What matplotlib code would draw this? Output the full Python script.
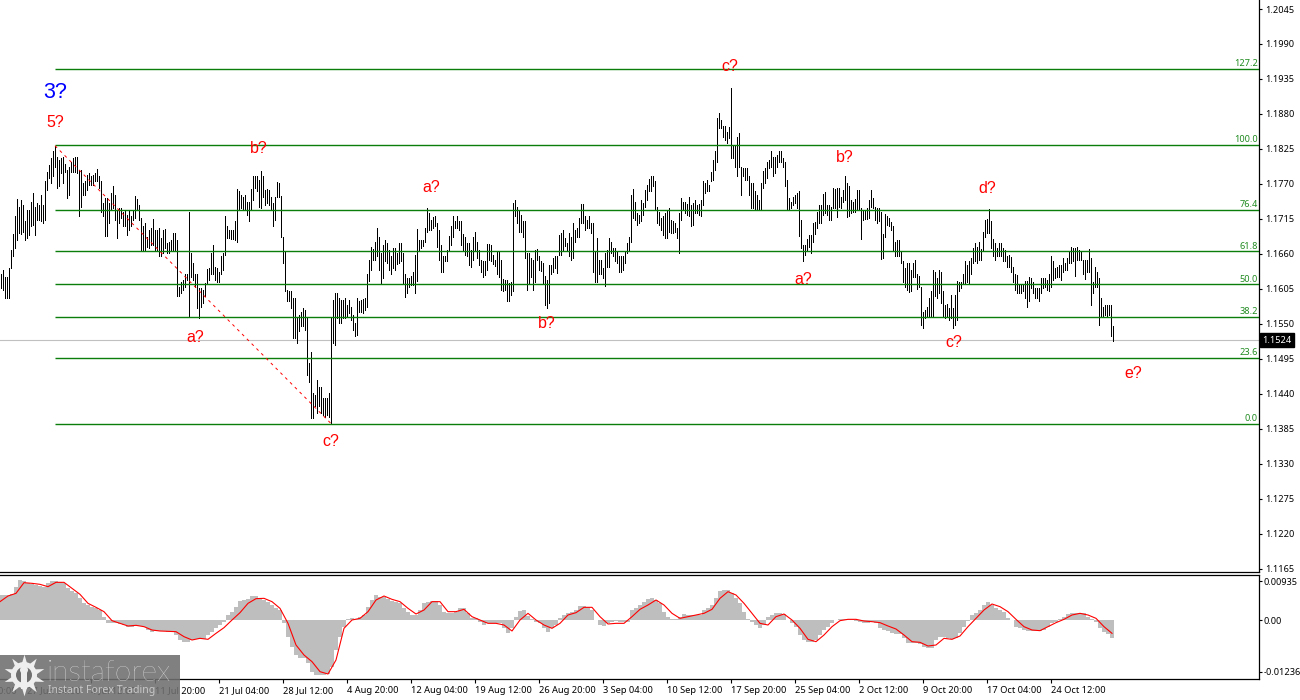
import numpy as np
import matplotlib
matplotlib.use('Agg')
import matplotlib.pyplot as plt
from matplotlib.patches import Rectangle, Circle

plt.rcParams['font.family'] = ['Noto Sans', 'DejaVu Sans']

# bars, in pips: 1629 means 1.1629
bar_high = [
    1629,1634,1624,1624,1637,1666,1691,1720,1746,1734,1744,1736,1711,1729,1729,1742,1755,1734,1740,1736,
    1753,1737,1774,1789,1800,1810,1821,1830,1813,1808,1810,1812,1802,1792,1797,1805,1810,1812,1812,1792,
    1792,1771,1774,1784,1787,1782,1784,1787,1793,1783,1775,1740,1747,1747,1740,1755,1767,1753,1729,1732,
    1732,1726,1729,1721,1729,1719,1729,1751,1746,1737,1716,1703,1708,1687,1698,1700,1714,1698,1698,1700,
    1685,1698,1699,1677,1679,1682,1693,1692,1682,1608,1616,1619,1629,1629,1725,1661,1645,1629,1629,1606,
    1606,1603,1614,1636,1637,1661,1674,1640,1637,1632,1656,1661,1719,1704,1698,1698,1698,1711,1762,1758,
    1753,1750,1753,1742,1742,1762,1782,1782,1782,1776,1790,1782,1761,1762,1761,1750,1740,1750,1773,1771,
    1751,1687,1664,1603,1601,1601,1590,1590,1561,1564,1569,1574,1572,1561,1488,1506,1441,1438,1462,1451,
    1451,1433,1433,1433,1441,1561,1588,1598,1598,1590,1588,1588,1590,1580,1588,
    1577,1564,1551,1590,1585,1588,1589,1590,1629,1650,1671,1667,1679,1700,1687,1661,1674,1682,1677,1666,
    1656,1669,1669,1661,1677,1677,1661,1629,1622,1622,1625,1632,1658,1699,1682,1682,1682,1700,1732,1724,
    1713,1718,1719,1708,1698,1674,1656,1656,1666,1688,1703,1719,1711,1719,1712,1711,1691,1687,1677,1677,
    1666,1687,1694,1679,1666,1651,1648,1648,1675,1675,1674,1658,1650,1664,1664,1650,1620,1619,1619,1614,
    1616,1740,1745,1734,1729,1721,1711,1711,1661,1661,1653,1650,1666,1667,1656,1648,1645,1625,1619,1643,
    1643,1653,1656,1656,1690,1692,1698,1685,1677,1692,1687,1709,1698,1700,1716,1739,1739,1719,1713,1719,
    1708,1708,1664,1685,1650,1650,1637,1661,1666,1685,1679,1669,1669,1664,1656,1656,1656,1664,1677,1687,
    1753,1762,1742,1724,1721,1745,1740,1760,1768,1777,1782,1783,1774,1734,1726,1716,1719,1724,1729,1732,
    1713,1711,1708,1700,1724,1747,1742,1742,1739,1750,1737,1740,1745,1737,1739,1745,1774,1771,1776,1768,
    1789,1808,1821,1873,1881,1871,1861,1861,1852,1860,1920,1831,1831,1843,1850,1797,1795,1795,1795,1782,
    1771,1771,1758,1753,1744,1771,1790,1795,1804,1808,1822,1813,1813,1816,1821,1822,1810,1805,1776,1747,
    1742,1750,1753,1755,1758,1713,1674,1674,1683,1690,1689,1708,1710,1726,1736,1736,1754,1757,1736,1736,
    1734,1763,1762,1763,1763,1749,1761,1782,1771,1766,1745,1742,1746,1760,1761,1732,1729,1729,1732,1745,
    1761,1747,1734,1732,1732,1726,1691,1723,1719,1716,1710,1703,1679,1682,1682,1664,1648,1637,1645,1645,
    1635,1645,1650,1629,1625,1608,1569,1572,1577,1590,1601,1634,1632,1622,1635,1632,1601,1580,1581,1574,
    1595,1574,1595,1618,1615,1616,1629,1648,1643,1648,1653,1669,1677,1671,1679,1667,1695,1713,1715,1730,
    1711,1683,1677,1669,1677,1677,1669,1666,1656,1658,1655,1639,1629,1627,1611,1611,1611,1618,1618,1624,
    1622,1616,1606,1606,1606,1622,1622,1622,1619,1629,1656,1648,1637,1640,1643,1643,1653,1645,1653,1664,
    1670,1669,1669,1670,1666,1664,1650,1650,1650,1668,1653,1616,1639,1632,1622,1590,1577,1580,1580,1579,
    1579,1546,
]
bar_low = [
    1606,1603,1591,1591,1591,1637,1656,1669,1682,1692,1691,1695,1681,1685,1690,1703,1705,1690,1713,1713,
    1711,1708,1713,1761,1779,1771,1782,1797,1763,1766,1787,1771,1789,1747,1753,1789,1789,1789,1787,1719,
    1734,1753,1753,1761,1768,1768,1768,1774,1774,1763,1726,1719,1688,1688,1708,1729,1732,1713,1685,1708,
    1716,1703,1703,1690,1698,1703,1713,1716,1729,1713,1665,1666,1666,1671,1669,1674,1674,1666,1664,1656,
    1656,1661,1669,1661,1662,1664,1664,1664,1593,1593,1598,1603,1608,1619,1562,1624,1619,1608,1574,1559,
    1577,1582,1593,1614,1619,1629,1629,1619,1616,1616,1629,1635,1658,1685,1685,1683,1683,1682,1679,1729,
    1732,1729,1729,1721,1712,1729,1745,1763,1758,1734,1732,1750,1737,1740,1737,1729,1704,1713,1750,1750,
    1687,1645,1601,1585,1585,1575,1527,1527,1520,1538,1546,1546,1540,1470,1459,1401,1401,1420,1409,1420,
    1409,1407,1404,1407,1404,1393,1519,1517,1559,1551,1551,1559,1559,1561,1567,
    1556,1540,1530,1532,1569,1569,1567,1572,1577,1618,1634,1650,1650,1656,1635,1613,1622,1648,1645,1635,
    1629,1637,1635,1644,1646,1648,1614,1592,1599,1608,1611,1611,1599,1618,1664,1669,1672,1678,1695,1697,
    1697,1700,1703,1670,1650,1632,1632,1648,1648,1664,1674,1687,1700,1700,1698,1674,1666,1658,1656,1643,
    1640,1650,1664,1653,1642,1632,1623,1627,1635,1650,1648,1644,1641,1629,1624,1603,1602,1603,1586,1585,
    1595,1601,1719,1708,1695,1695,1687,1653,1603,1614,1624,1603,1616,1650,1635,1633,1614,1580,1575,1582,
    1629,1632,1637,1630,1658,1658,1666,1672,1664,1656,1650,1653,1679,1687,1687,1708,1708,1698,1700,1700,
    1692,1632,1615,1616,1629,1629,1622,1610,1640,1640,1661,1656,1648,1645,1632,1632,1635,1645,1661,1666,
    1679,1716,1713,1705,1708,1711,1721,1734,1745,1758,1758,1766,1729,1708,1705,1698,1690,1685,1685,1695,
    1692,1693,1695,1685,1662,1713,1729,1724,1721,1719,1703,1705,1724,1724,1721,1719,1737,1755,1758,1758,
    1774,1776,1792,1805,1858,1858,1844,1839,1834,1842,1810,1810,1797,1782,1797,1753,1782,1776,1776,1753,
    1732,1732,1729,1729,1729,1729,1763,1771,1779,1795,1797,1782,1787,1797,1805,1805,1797,1767,1729,1729,
    1732,1737,1740,1732,1688,1669,1648,1658,1664,1671,1662,1679,1691,1700,1708,1708,1721,1724,1721,1713,
    1713,1732,1732,1718,1734,1732,1742,1745,1718,1719,1724,1725,1725,1729,1729,1683,1713,1714,1714,1716,
    1734,1732,1713,1708,1712,1652,1653,1686,1705,1703,1697,1666,1656,1656,1656,1646,1616,1607,1603,1600,
    1601,1624,1624,1604,1608,1548,1544,1559,1561,1561,1562,1561,1593,1590,1598,1582,1561,1559,1561,1556,
    1559,1544,1548,1556,1601,1606,1613,1614,1615,1614,1629,1645,1648,1645,1650,1650,1664,1687,1692,1692,
    1669,1656,1651,1656,1656,1656,1648,1648,1640,1640,1632,1615,1603,1599,1599,1599,1601,1590,1577,1585,
    1606,1598,1590,1590,1586,1598,1606,1608,1603,1601,1608,1619,1622,1624,1624,1619,1632,1635,1635,1645,
    1646,1648,1625,1650,1650,1650,1629,1620,1632,1632,1579,1598,1608,1607,1548,1561,1561,1564,1561,1564,
    1530,1523,
]

# oscillator, in 1e-5; one histogram value per two bars, one signal value per four
osc_hist = [
    600,600,600,616,800,960,944,896,864,840,816,800,880,944,944,912,880,760,704,640,
    520,400,360,320,280,240,80,-64,-64,-80,-96,-120,-160,-160,-144,-144,-160,-240,-280,-256,
    -256,-256,-280,-280,-360,-480,-520,-520,-480,-464,-448,-464,-360,-280,-200,-120,-40,120,200,320,
    464,480,496,576,576,520,480,440,360,280,240,-80,-400,-640,-840,-920,-920,-1040,-1240,-1320,
    -1320,-1320,-1296,-1120,-720,-400,-160,16,40,16,64,120,320,480,600,560,544,496,464,440,
    400,280,200,120,120,240,400,440,464,464,360,200,160,
    160,200,280,280,160,40,40,-40,-120,-80,-64,-64,-80,-200,-320,-200,80,224,240,96,
    16,-40,-80,-200,-280,-200,-120,40,120,160,200,240,336,336,320,240,0,-120,-144,-80,
    -40,-24,-40,-40,-40,240,280,360,440,496,536,480,400,200,80,16,16,80,144,120,
    120,120,120,240,280,360,520,704,720,720,656,520,400,200,16,-40,-120,-184,-120,64,
    120,176,160,136,0,-80,-160,-360,-480,-536,-536,-480,-360,-240,-160,-80,0,24,16,16,
    16,-16,-40,-64,-64,-40,-80,-200,-240,-264,-304,-336,-336,
    -440,-544,-560,-560,-576,-656,-680,-680,-480,-400,-416,-440,-464,-440,-304,-160,-16,120,176,240,
    360,424,360,280,240,200,40,0,-160,-200,-240,-256,-256,-256,-256,-240,-160,-80,-40,16,
    80,144,176,176,176,160,80,16,-40,-200,-280,-336,-440,
]
osc_signal = [
    440,576,640,896,880,856,800,904,904,760,616,400,304,200,-16,-80,-144,-128,-160,-240,
    -264,-272,-280,-400,-480,-440,-464,-320,-184,0,176,400,512,520,440,280,-80,-600,-840,-1000,
    -1240,-1296,-960,-200,0,40,200,480,576,496,440,280,144,240,440,440,200,
    200,256,80,0,-80,-80,-120,-264,0,160,0,-120,-200,-80,120,176,304,304,80,-96,
    -80,-80,80,256,360,480,360,160,40,80,120,160,256,520,680,600,400,160,-80,-120,
    80,144,0,-200,-464,-520,-360,-160,-16,16,16,-24,-40,-64,-144,-216,
    -360,-520,-536,-624,-600,-440,-464,-384,-160,40,240,384,320,200,16,-160,-240,-256,-160,-64,
    16,120,160,120,40,-160,-320,
]

price_ticks = [1.2045, 1.1990, 1.1935, 1.1880, 1.1825, 1.1770, 1.1715, 1.1660, 1.1605,
               1.1550, 1.1495, 1.1440, 1.1385, 1.1330, 1.1275, 1.1220, 1.1165]
time_labels = ['27 Jun 04:00', '4 Jul 12:00', '11 Jul 20:00', '21 Jul 04:00', '28 Jul 12:00',
               '4 Aug 20:00', '12 Aug 04:00', '19 Aug 12:00', '26 Aug 20:00', '3 Sep 04:00',
               '10 Sep 12:00', '17 Sep 20:00', '25 Sep 04:00', '2 Oct 12:00', '9 Oct 20:00',
               '17 Oct 04:00', '24 Oct 12:00']

fib_levels = [1.1951, 1.1831, 1.1729, 1.1664, 1.1612, 1.1561, 1.1496, 1.1392]
fib_names = ['127.2', '100.0', '76.4', '61.8', '50.0', '38.2', '23.6', '0.0']
last_price = 1.1524

wave_names = ['5?', 'b?', 'a?', 'c?', 'a?', 'b?', 'c?', 'a?', 'b?', 'c?', 'd?', 'e?']
wave_bars = [27, 129, 97, 165, 215, 273, 364.5, 401, 422, 476.5, 493, 566]
wave_prices = [1.1866, 1.1826, 1.1528, 1.1364, 1.1765, 1.1550, 1.1955, 1.1620, 1.1811, 1.1520, 1.1763, 1.1471]

W, H = 1300, 700
fig = plt.figure(figsize=(13, 7), dpi=100, facecolor='white')
ax = fig.add_axes([0, (H - 572) / H, 1259 / W, 572 / H])
sub = fig.add_axes([0, (H - 679) / H, 1259 / W, 104.5 / H])

bars = np.arange(len(bar_high))
high = 1 + np.array(bar_high) / 1e4
low = 1 + np.array(bar_low) / 1e4

# main pane
ax.vlines(bars, low, high, color='black', lw=0.7, antialiased=False, zorder=2)
ax.axhline(last_price, color='#c0c0c0', lw=0.8, zorder=1)
ax.hlines(fib_levels, 27, 629, color='#0a7d0a', lw=1.0, zorder=3)
ax.plot([27, 165], [high[27], low[165]], color='red', lw=0.7, dashes=(3, 4), zorder=4)

for name, lev in zip(fib_names, fib_levels):
    ax.annotate(name, (629, lev), xytext=(-1, 0.5), textcoords='offset points', ha='right', va='bottom',
                fontsize=6.6, color='#1f8a1f')

for name, b, p in zip(wave_names, wave_bars, wave_prices):
    ax.text(b, p, name, color='red', fontsize=11.5, ha='center', va='center', family='Liberation Sans')
ax.text(27, 1.1914, '3?', color='#0000ff', fontsize=15.5, ha='center', va='center', family='Liberation Sans')

ax.set_xlim(-0.5, 629)
ax.set_ylim(1.11595, 1.20592)
ax.set_xticks([])
ax.yaxis.tick_right()
ax.set_yticks(price_ticks)
ax.set_yticklabels([f'{p:.4f}' for p in price_ticks])
ax.tick_params(axis='y', length=2.2, width=0.8, pad=2.5, labelsize=6.6)
ax.spines['top'].set_visible(False)
ax.spines['left'].set_visible(False)
ax.text(1.0025, last_price, '1.1524', transform=ax.get_yaxis_transform(), fontsize=6.6, color='white',
        va='center', ha='left', bbox=dict(facecolor='black', edgecolor='black', pad=1.8), zorder=5)

# oscillator pane
hist = np.array(osc_hist) / 1e5
sig = np.array(osc_signal) / 1e5
sub.bar(2 * np.arange(len(hist)) - 0.5, hist, width=2, color='#bebebe', lw=0)
sub.plot(4 * np.arange(len(sig)) - 0.5, sig, color='red', lw=0.8)
sub.set_xlim(-0.5, 629)
sub.set_ylim(-0.01416, 0.01092)
sub.yaxis.tick_right()
sub.set_yticks([0.00935, 0.0, -0.01236])
sub.set_yticklabels(['0.00935', '0.00', '-0.01236'])
sub.tick_params(axis='y', length=2.2, width=0.8, pad=1, labelsize=6.6)
sub.spines['left'].set_visible(False)

tick_bars = 13 + 32 * np.arange(len(time_labels))
sub.set_xticks(tick_bars)
sub.set_xticklabels(time_labels, ha='left')
sub.tick_params(axis='x', length=3, width=0.8, pad=2, labelsize=6.7)
sub.annotate('20 Jun 20:00', (-19, 0), xycoords=('data', 'axes fraction'), xytext=(0, -5),
             textcoords='offset points', fontsize=6.7, ha='left', va='top', annotation_clip=False)

for a in (ax, sub):
    for s in a.spines.values():
        s.set_linewidth(0.9)

# watermark, in pixels
over = fig.add_axes([0, 0, 1, 1], zorder=10)
over.set_xlim(0, W)
over.set_ylim(H, 0)
over.axis('off')
over.patch.set_alpha(0)
over.add_patch(Rectangle((0, 655), 180, 45, facecolor='#6f6f6f', alpha=0.88, lw=0))
over.scatter([24], [675], s=900, marker=(10, 1, 0), color='#eeeeee', lw=0)
over.add_patch(Circle((24, 675), 13, color='#eeeeee', lw=0))
over.add_patch(Circle((24, 675), 8, color='#6f6f6f', lw=0))
over.add_patch(Circle((24, 670), 4, color='#eeeeee', lw=0))
over.add_patch(Rectangle((21, 672), 6, 17, color='#eeeeee', lw=0))
over.text(47, 673, 'instaforex', color='#efefef', fontsize=21.5, family='Lato', weight='light', va='center', ha='left')
over.text(48, 691, 'Instant Forex Trading', color='#c8c8c8', fontsize=7.6, family='Noto Sans', va='center', ha='left')

fig.savefig('out.png', dpi=100)
